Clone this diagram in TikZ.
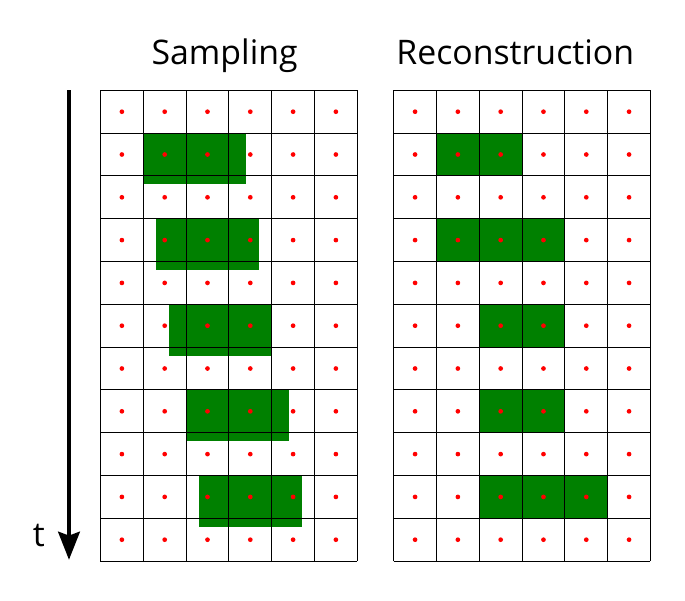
\documentclass[tikz,border=0pt]{standalone}
\usepackage{fontspec}
\setmainfont{Open Sans}
\usetikzlibrary{arrows.meta}
\definecolor{blockgreen}{HTML}{008000}
\tikzset{
  gridline/.style={line width=0.7pt, black},
  sample/.style={red},
  block/.style={fill=blockgreen},
  title/.style={anchor=base, font=\fontsize{22.5}{27}\selectfont}
}

\begin{document}
\begin{tikzpicture}
    \useasboundingbox (-2.348,2.110) rectangle (13.657,-11.909);
    % moving object, sampled
    \foreach \r/\s in {1/1.0, 3/1.3, 5/1.6, 7/2.0, 9/2.3}
        \fill[block] (\s,-\r) rectangle ++(2.4,-1.2);
    % reconstructed pixels
    \begin{scope}[xshift=6.85cm]
        \foreach \r/\a/\b in {1/1/3, 3/1/4, 5/2/4, 7/2/4, 9/2/5}
            \fill[block] (\a,-\r) rectangle (\b,-\r-1);
    \end{scope}
    % the two grids with sample points
    \foreach \dx in {0,6.85} {
        \begin{scope}[xshift=\dx cm]
            \draw[gridline] (0,0) grid (6,-11);
            \foreach \i in {0,...,5}
                \foreach \j in {0,...,10}
                    \fill[sample] (\i+0.5,-\j-0.5) circle (0.055);
        \end{scope}
    }
    \node[title] (sampling) at (2.9,0.614) {Sampling};
    \node[title] (recon) at (9.69,0.614) {Reconstruction};
    % time axis
    \coordinate (tstart) at (-0.736,0);
    \coordinate (tend) at (-0.736,-10.97);
    \draw[line width=2.9pt, -{Stealth[length=18.6pt,width=14.3pt,inset=2.5pt]}] (tstart) -- (tend);
    \node[title] (tlabel) at (-1.44,-10.66) {t};
\end{tikzpicture}
\end{document}
